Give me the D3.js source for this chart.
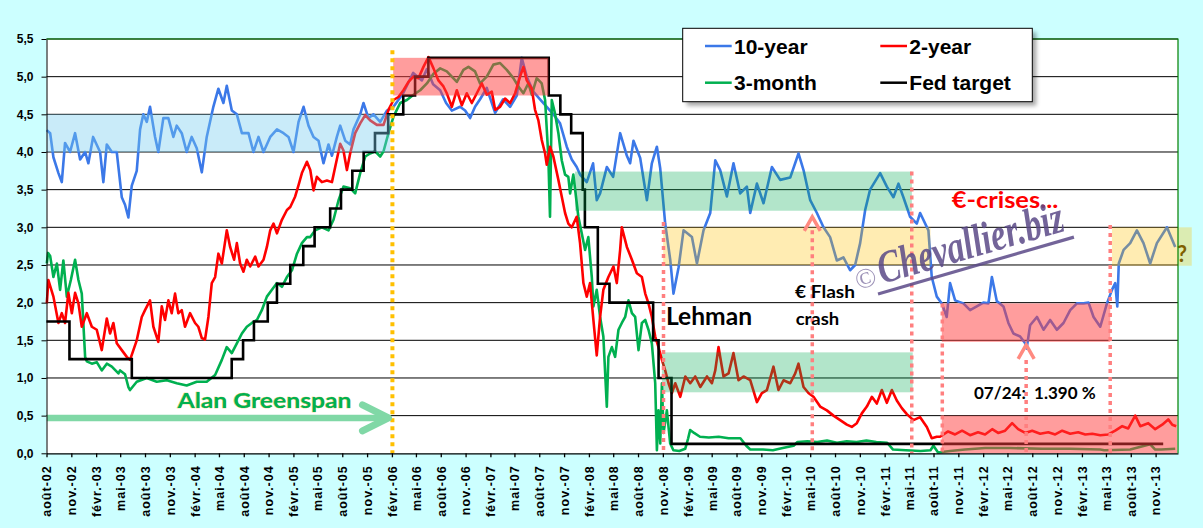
<!DOCTYPE html>
<html>
<head>
<meta charset="utf-8">
<script src="https://cdn.jsdelivr.net/npm/d3@7"></script>
<style>
  body { margin: 0; background: #ccffff; }
  svg { display: block; }
</style>
</head>
<body>
<svg id="chart" width="1203" height="528"></svg>
<script>
// US rates 2002-2014.
// Dates are decimal years.

const tenYear = [
  [2002.584,4.29],[2002.618,4.25],[2002.651,3.93],[2002.702,3.72],[2002.736,3.6],[2002.769,4.12],[2002.82,4.0],[2002.871,4.25],[2002.922,3.9],[2002.973,4.0],
  [2003.006,3.85],[2003.054,4.2],[2003.125,4.0],[2003.158,3.6],[2003.193,4.1],[2003.244,4.0],[2003.294,4.0],[2003.345,3.4],[2003.378,3.3],[2003.412,3.13],
  [2003.446,3.55],[2003.497,3.75],[2003.531,4.3],[2003.564,4.5],[2003.599,4.4],[2003.632,4.6],[2003.683,4.2],[2003.716,4.0],[2003.767,4.45],[2003.818,4.45],
  [2003.869,4.2],[2003.903,4.35],[2003.954,4.25],[2004.004,4.0],[2004.055,4.2],[2004.106,4.05],[2004.157,3.73],[2004.207,4.2],[2004.274,4.6],[2004.325,4.84],
  [2004.376,4.65],[2004.41,4.88],[2004.461,4.55],[2004.512,4.5],[2004.563,4.25],[2004.63,4.25],[2004.68,4.0],[2004.731,4.2],[2004.782,4.0],[2004.85,4.2],
  [2004.918,4.3],[2004.985,4.25],[2005.035,4.2],[2005.086,4.0],[2005.137,4.4],[2005.188,4.6],[2005.238,4.35],[2005.289,4.2],[2005.34,4.15],[2005.39,3.85],
  [2005.441,4.1],[2005.476,3.95],[2005.526,4.2],[2005.56,4.35],[2005.611,4.15],[2005.661,4.1],[2005.695,4.3],[2005.763,4.5],[2005.796,4.65],[2005.847,4.45],
  [2005.898,4.5],[2005.966,4.4],[2006.034,4.55],[2006.101,4.6],[2006.199,4.78],[2006.301,5.05],[2006.389,4.95],[2006.44,5.1],[2006.503,4.9],[2006.575,4.82],
  [2006.635,4.65],[2006.693,4.55],[2006.777,4.6],[2006.828,4.55],[2006.879,4.45],[2006.929,4.6],[2006.98,4.7],[2007.048,4.85],[2007.133,4.52],[2007.214,4.7],
  [2007.285,4.6],[2007.353,4.75],[2007.403,5.25],[2007.454,5.0],[2007.521,4.8],[2007.589,4.7],[2007.657,4.6],[2007.724,4.5],[2007.792,4.38],[2007.86,4.07],
  [2007.911,3.9],[2007.961,3.8],[2007.995,3.7],[2008.063,3.6],[2008.127,3.85],[2008.164,3.36],[2008.198,3.45],[2008.266,3.8],[2008.33,3.67],[2008.401,4.25],
  [2008.469,3.95],[2008.502,3.85],[2008.536,4.15],[2008.604,3.92],[2008.672,3.36],[2008.722,3.85],[2008.773,4.07],[2008.807,3.78],[2008.857,3.05],[2008.908,2.57],
  [2008.941,2.12],[2008.993,2.47],[2009.043,2.96],[2009.128,2.87],[2009.179,2.52],[2009.246,2.96],[2009.314,3.19],[2009.365,3.89],[2009.415,3.76],[2009.483,3.41],
  [2009.55,3.85],[2009.618,3.45],[2009.686,3.54],[2009.72,3.19],[2009.788,3.58],[2009.855,3.32],[2009.94,3.8],[2010.024,3.63],[2010.126,3.66],[2010.21,3.98],
  [2010.261,3.76],[2010.329,3.36],[2010.397,3.19],[2010.464,3.0],[2010.531,2.87],[2010.599,2.56],[2010.666,2.6],[2010.734,2.43],[2010.785,2.5],[2010.836,2.79],
  [2010.887,3.23],[2010.937,3.5],[2011.039,3.72],[2011.107,3.54],[2011.174,3.4],[2011.225,3.58],[2011.275,3.4],[2011.343,3.14],[2011.411,3.05],[2011.445,3.19],
  [2011.529,2.96],[2011.563,2.34],[2011.614,2.08],[2011.665,1.99],[2011.715,1.81],[2011.749,2.26],[2011.8,2.03],[2011.884,1.99],[2011.952,1.9],[2012.02,1.95],
  [2012.087,2.0],[2012.138,1.99],[2012.173,2.34],[2012.223,2.02],[2012.29,1.95],[2012.34,1.73],[2012.391,1.59],[2012.459,1.55],[2012.51,1.46],[2012.525,1.39],
  [2012.56,1.7],[2012.629,1.81],[2012.696,1.64],[2012.763,1.77],[2012.831,1.64],[2012.898,1.73],[2012.966,1.9],[2013.034,1.99],[2013.101,1.99],[2013.152,2.0],
  [2013.203,1.81],[2013.271,1.68],[2013.339,1.99],[2013.39,2.17],[2013.423,2.26],[2013.444,1.95],[2013.459,2.52],[2013.508,2.7],[2013.575,2.79],[2013.643,2.96],
  [2013.71,2.79],[2013.778,2.52],[2013.846,2.79],[2013.948,3.0],[2014.032,2.74]
];

const twoYear = [
  [2002.584,1.99],[2002.6,2.3],[2002.651,2.08],[2002.702,1.73],[2002.736,1.86],[2002.769,1.73],[2002.803,2.13],[2002.838,1.86],[2002.871,2.13],[2002.905,1.99],
  [2002.939,1.68],[2002.99,1.86],[2003.041,1.68],[2003.091,1.64],[2003.142,1.37],[2003.193,1.79],[2003.226,1.59],[2003.26,1.73],[2003.294,1.46],[2003.345,1.37],
  [2003.396,1.28],[2003.429,1.24],[2003.463,1.37],[2003.497,1.5],[2003.548,1.81],[2003.581,1.9],[2003.632,2.03],[2003.666,1.68],[2003.716,1.48],[2003.751,1.95],
  [2003.784,1.77],[2003.818,2.03],[2003.852,1.86],[2003.886,2.12],[2003.919,1.86],[2003.954,1.9],[2003.987,1.68],[2004.038,1.86],[2004.089,1.73],[2004.122,1.68],
  [2004.157,1.53],[2004.19,1.51],[2004.224,1.81],[2004.258,2.26],[2004.292,2.34],[2004.325,2.65],[2004.36,2.52],[2004.41,2.96],[2004.444,2.74],[2004.484,2.57],
  [2004.512,2.79],[2004.545,2.52],[2004.579,2.41],[2004.613,2.57],[2004.647,2.48],[2004.698,2.61],[2004.731,2.48],[2004.782,2.57],[2004.816,2.74],[2004.85,2.96],
  [2004.883,3.05],[2004.918,2.92],[2004.968,3.1],[2005.019,3.23],[2005.053,3.27],[2005.103,3.41],[2005.137,3.56],[2005.171,3.72],[2005.222,3.87],[2005.256,3.76],
  [2005.289,3.49],[2005.323,3.67],[2005.374,3.6],[2005.425,3.62],[2005.476,3.6],[2005.509,3.8],[2005.56,4.11],[2005.593,4.02],[2005.628,3.76],[2005.661,3.98],
  [2005.712,4.25],[2005.763,4.38],[2005.814,4.49],[2005.864,4.42],[2005.932,4.36],[2006.0,4.36],[2006.05,4.56],[2006.101,4.69],[2006.151,4.73],[2006.202,4.82],
  [2006.253,4.93],[2006.304,5.0],[2006.354,4.98],[2006.405,5.13],[2006.456,5.26],[2006.507,5.11],[2006.557,4.95],[2006.608,4.87],[2006.642,4.78],[2006.693,4.6],
  [2006.744,4.82],[2006.795,4.62],[2006.845,4.78],[2006.896,4.65],[2006.947,4.78],[2006.998,4.91],[2007.048,4.76],[2007.099,4.8],[2007.133,4.56],[2007.183,4.6],
  [2007.234,4.71],[2007.285,4.65],[2007.336,4.78],[2007.386,5.0],[2007.42,5.13],[2007.454,4.95],[2007.505,4.84],[2007.538,4.56],[2007.572,4.42],[2007.606,4.16],
  [2007.64,3.98],[2007.657,3.83],[2007.69,4.07],[2007.724,3.94],[2007.775,3.63],[2007.809,3.41],[2007.843,3.19],[2007.876,3.05],[2007.911,3.0],[2007.961,3.14],
  [2007.995,2.79],[2008.029,2.26],[2008.063,2.08],[2008.096,2.26],[2008.13,1.77],[2008.164,1.3],[2008.198,1.81],[2008.231,2.17],[2008.282,2.34],[2008.333,2.48],
  [2008.367,2.26],[2008.401,2.7],[2008.418,3.0],[2008.469,2.74],[2008.52,2.57],[2008.57,2.39],[2008.621,2.34],[2008.655,2.12],[2008.688,1.99],[2008.722,1.81],
  [2008.756,1.55],[2008.789,1.41],[2008.824,1.24],[2008.857,1.1],[2008.891,0.93],[2008.925,0.8],[2008.959,0.93],[2009.01,0.75],[2009.061,1.02],[2009.111,0.93],
  [2009.162,1.02],[2009.213,0.88],[2009.281,1.02],[2009.331,0.93],[2009.365,1.1],[2009.398,1.41],[2009.449,1.02],[2009.5,1.06],[2009.55,1.33],[2009.601,0.97],
  [2009.652,1.02],[2009.72,0.97],[2009.788,0.68],[2009.838,0.8],[2009.889,0.84],[2009.956,1.15],[2010.007,0.84],[2010.058,0.97],[2010.126,0.93],[2010.177,1.06],
  [2010.21,1.19],[2010.261,0.88],[2010.311,0.8],[2010.362,0.75],[2010.43,0.62],[2010.498,0.57],[2010.565,0.5],[2010.633,0.44],[2010.701,0.38],[2010.751,0.35],
  [2010.802,0.4],[2010.853,0.53],[2010.904,0.62],[2010.955,0.75],[2011.005,0.66],[2011.056,0.84],[2011.107,0.67],[2011.158,0.84],[2011.208,0.7],[2011.259,0.6],
  [2011.31,0.52],[2011.377,0.44],[2011.445,0.48],[2011.513,0.35],[2011.563,0.2],[2011.614,0.22],[2011.647,0.22],[2011.729,0.29],[2011.8,0.25],[2011.871,0.3],
  [2011.952,0.24],[2012.033,0.28],[2012.104,0.25],[2012.176,0.32],[2012.236,0.27],[2012.307,0.3],[2012.378,0.4],[2012.439,0.32],[2012.51,0.27],[2012.581,0.3],
  [2012.662,0.26],[2012.744,0.28],[2012.814,0.25],[2012.885,0.3],[2012.966,0.26],[2013.047,0.28],[2013.119,0.25],[2013.19,0.26],[2013.271,0.24],[2013.352,0.25],
  [2013.423,0.3],[2013.494,0.36],[2013.555,0.33],[2013.626,0.5],[2013.677,0.36],[2013.758,0.4],[2013.829,0.32],[2013.9,0.38],[2013.961,0.45],[2014.002,0.38],
  [2014.042,0.36]
];

const threeMonth = [
  [2002.584,2.52],[2002.597,2.66],[2002.618,2.62],[2002.651,2.34],[2002.686,2.52],[2002.719,2.17],[2002.752,2.56],[2002.787,2.08],[2002.828,2.3],[2002.871,2.57],
  [2002.905,2.3],[2002.939,2.12],[2002.973,1.28],[2002.99,1.22],[2003.041,1.19],[2003.091,1.21],[2003.142,1.1],[2003.193,1.19],[2003.244,1.15],[2003.311,1.06],
  [2003.328,1.1],[2003.378,1.05],[2003.412,0.88],[2003.429,0.84],[2003.497,0.95],[2003.599,1.0],[2003.7,0.95],[2003.802,0.97],[2003.903,0.93],[2004.004,0.9],
  [2004.106,0.95],[2004.207,0.95],[2004.292,1.04],[2004.36,1.24],[2004.41,1.41],[2004.461,1.33],[2004.512,1.46],[2004.563,1.59],[2004.613,1.68],[2004.664,1.73],
  [2004.715,1.77],[2004.765,1.9],[2004.816,2.08],[2004.867,2.17],[2004.918,2.26],[2004.968,2.21],[2005.019,2.34],[2005.07,2.43],[2005.121,2.65],[2005.171,2.79],
  [2005.222,2.87],[2005.256,2.87],[2005.306,2.96],[2005.374,3.0],[2005.441,2.96],[2005.492,3.1],[2005.543,3.36],[2005.593,3.54],[2005.661,3.52],[2005.712,3.45],
  [2005.763,3.72],[2005.814,3.94],[2005.864,3.98],[2005.915,4.01],[2005.966,3.94],[2006.0,4.01],[2006.05,4.25],[2006.101,4.47],[2006.169,4.65],[2006.237,4.69],
  [2006.304,4.76],[2006.372,4.82],[2006.44,4.91],[2006.507,5.04],[2006.575,5.11],[2006.642,5.07],[2006.693,5.0],[2006.744,4.93],[2006.811,5.09],[2006.862,5.13],
  [2006.929,5.07],[2006.98,4.91],[2007.048,5.0],[2007.115,5.16],[2007.183,5.18],[2007.251,5.09],[2007.318,4.98],[2007.369,4.87],[2007.42,4.78],[2007.47,4.91],
  [2007.505,4.76],[2007.555,4.98],[2007.606,4.91],[2007.64,4.69],[2007.673,3.94],[2007.69,3.14],[2007.708,4.69],[2007.741,4.51],[2007.775,4.25],[2007.809,3.89],
  [2007.843,3.7],[2007.876,3.67],[2007.894,3.45],[2007.927,3.7],[2007.978,3.14],[2008.012,2.92],[2008.046,2.7],[2008.079,2.87],[2008.114,2.34],[2008.13,1.95],
  [2008.164,2.17],[2008.198,1.81],[2008.231,1.55],[2008.266,0.62],[2008.282,1.28],[2008.317,1.41],[2008.35,1.28],[2008.384,1.64],[2008.418,1.73],[2008.452,1.81],
  [2008.485,2.03],[2008.52,1.86],[2008.553,1.81],[2008.587,1.37],[2008.621,1.73],[2008.655,1.77],[2008.688,1.64],[2008.722,1.46],[2008.756,0.93],[2008.773,0.04],
  [2008.789,0.57],[2008.807,0.13],[2008.824,0.93],[2008.84,0.27],[2008.874,0.57],[2008.908,0.13],[2008.94,0.04],[2009.0,0.03],[2009.06,0.06],[2009.09,0.2],
  [2009.11,0.31],[2009.15,0.27],[2009.21,0.22],[2009.3,0.21],[2009.4,0.22],[2009.5,0.2],[2009.62,0.2],[2009.68,0.1],[2009.72,0.05],[2009.85,0.05],
  [2009.95,0.04],[2010.05,0.07],[2010.16,0.1],[2010.2,0.15],[2010.3,0.16],[2010.4,0.15],[2010.5,0.17],[2010.6,0.14],[2010.7,0.16],[2010.8,0.15],
  [2010.9,0.17],[2011.0,0.15],[2011.11,0.14],[2011.17,0.05],[2011.3,0.04],[2011.45,0.03],[2011.55,0.04],[2011.58,0.1],[2011.627,0.01],[2011.749,0.03],
  [2011.901,0.05],[2012.104,0.07],[2012.358,0.07],[2012.682,0.06],[2012.966,0.06],[2013.271,0.05],[2013.312,0.04],[2013.575,0.05],[2013.778,0.12],[2013.829,0.05],
  [2013.89,0.05],[2014.032,0.06]
];

// Fed funds target: [date of change, new level]
const fedTarget = [
  [2002.58,1.75],[2002.814,1.25],[2003.447,1.0],[2004.46,1.25],[2004.575,1.5],[2004.685,1.75],[2004.825,2.0],[2004.918,2.25],
  [2005.053,2.5],[2005.185,2.75],[2005.30,3.0],[2005.458,3.25],[2005.568,3.5],[2005.683,3.75],[2005.798,4.0],[2005.913,4.25],
  [2006.047,4.5],[2006.20,4.75],[2006.32,5.0],[2006.455,5.25],[2007.677,4.75],[2007.795,4.5],[2007.905,4.25],[2008.022,3.5],
  [2008.044,3.0],[2008.175,2.25],[2008.293,2.0],[2008.735,1.5],[2008.79,1.0],[2008.921,0.125],[2013.91,0.125]
];

// shaded ranges drawn over the lines
const zones = [
  {from: 2002.584, to: 2006.067, low: 4.0,  high: 4.5,  kind: 'blue'},
  {from: 2006.098, to: 2007.673, low: 4.75, high: 5.25, kind: 'red'},
  {from: 2007.944, to: 2011.361, low: 3.22, high: 3.74, kind: 'green'},
  {from: 2008.837, to: 2011.55,  low: 2.5,  high: 3.0,  kind: 'yellow'},
  {from: 2008.824, to: 2011.37,  low: 0.81, high: 1.34, kind: 'green'},
  {from: 2011.665, to: 2013.372, low: 1.48, high: 1.99, kind: 'red'},
  {from: 2013.39,  to: 2014.2,   low: 2.49, high: 3.0,  kind: 'yellow'},
  {from: 2011.665, to: 2014.05,  low: 0,    high: 0.5,  kind: 'red'}
];

// vertical event markers
const events = [
  {t: 2006.09,  top: 5.35, kind: 'greenspan'},
  {t: 2008.84,  top: 3.07, kind: 'crisis'},
  {t: 2010.35,  top: 2.96, kind: 'crisis'},
  {t: 2011.36,  top: 3.74, kind: 'crisis'},
  {t: 2011.67,  top: 1.99, kind: 'crisis'},
  {t: 2012.52,  top: 1.24, kind: 'crisis'},
  {t: 2013.372, top: 3.03, kind: 'crisis'}
];
const eventArrows = [[2010.35, 3.14], [2012.52, 1.44]];
const greenspanArrow = [[2002.584, 0.47], [2006.05, 0.47]];

const yTicks = [0, 0.5, 1, 1.5, 2, 2.5, 3, 3.5, 4, 4.5, 5, 5.5];
const monthNames = ['janv.', 'févr.', 'mars', 'avr.', 'mai', 'juin', 'juil.', 'août', 'sept.', 'oct.', 'nov.', 'déc.'];

const legendItems = [
  {label: '10-year',    color: '#3b78e8', col: 0, row: 0},
  {label: '2-year',     color: '#ff0000', col: 1, row: 0},
  {label: '3-month',    color: '#00b050', col: 0, row: 1},
  {label: 'Fed target', color: '#000000', col: 1, row: 1}
];

const zoneFill = {blue: 'rgba(120,205,240,0.4)', red: 'rgba(255,60,60,0.5)', green: 'rgba(0,170,80,0.3)', yellow: 'rgba(255,192,0,0.3)'};

function yearToDate(t) {
  const yr = Math.floor(t);
  const a = Date.UTC(yr, 0, 1), b = Date.UTC(yr + 1, 0, 1);
  return new Date(a + (t - yr) * (b - a));
}

const plot = {left: 46.5, right: 1178, top: 39, bottom: 453.3};

const x = d3.scaleUtc()
  .domain([new Date(Date.UTC(2002, 7, 1)), new Date(Date.UTC(2014, 0, 23))])
  .range([plot.left, plot.right]);
const y = d3.scaleLinear().domain([0, 5.5]).range([plot.bottom, plot.top]);
const X = t => x(yearToDate(t));

const svg = d3.select('#chart');
const defs = svg.append('defs');
defs.append('filter').attr('id', 'blur').append('feGaussianBlur').attr('stdDeviation', 2);

svg.append('rect').attr('width', 1203).attr('height', 528).attr('fill', '#ccffff');
svg.append('rect')
  .attr('x', plot.left).attr('y', plot.top)
  .attr('width', plot.right - plot.left).attr('height', plot.bottom - plot.top)
  .attr('fill', '#fff');

// gridlines
svg.append('g').selectAll('line')
  .data(yTicks.filter(d => d > 0))
  .enter().append('line')
  .attr('x1', plot.left).attr('x2', plot.right)
  .attr('y1', d => y(d)).attr('y2', d => y(d))
  .attr('stroke', '#000').attr('stroke-width', 1);

// series
const line = d3.line().x(d => X(d[0])).y(d => y(d[1]));
const series = [
  {data: tenYear, color: '#3b78e8'},
  {data: threeMonth, color: '#00b050'},
  {data: twoYear, color: '#ff0000'}
];
svg.append('g').selectAll('path')
  .data(series)
  .enter().append('path')
  .attr('d', d => line(d.data))
  .attr('fill', 'none')
  .attr('stroke', d => d.color)
  .attr('stroke-width', 2.6)
  .attr('stroke-linejoin', 'round');

svg.append('path')
  .attr('d', d3.line().x(d => X(d[0])).y(d => y(d[1])).curve(d3.curveStepAfter)(fedTarget))
  .attr('fill', 'none')
  .attr('stroke', '#000')
  .attr('stroke-width', 2.6);

// shaded zones
svg.append('g').selectAll('rect')
  .data(zones)
  .enter().append('rect')
  .attr('x', d => X(d.from))
  .attr('y', d => y(d.high))
  .attr('width', d => X(d.to) - X(d.from))
  .attr('height', d => y(d.low) - y(d.high))
  .attr('fill', d => zoneFill[d.kind]);

// event dotted lines
svg.append('g').selectAll('line')
  .data(events)
  .enter().append('line')
  .attr('x1', d => X(d.t)).attr('x2', d => X(d.t))
  .attr('y1', d => y(d.top)).attr('y2', plot.bottom)
  .attr('stroke', d => d.kind === 'greenspan' ? '#ffc000' : '#ff7f7f')
  .attr('stroke-width', d => d.kind === 'greenspan' ? 4 : 3.5)
  .attr('stroke-dasharray', '4,4');

svg.append('g').selectAll('path')
  .data(eventArrows)
  .enter().append('path')
  .attr('d', d => {
    const px = X(d[0]), py = y(d[1]);
    return `M${px - 8},${py + 14}L${px},${py}L${px + 8},${py + 14}`;
  })
  .attr('fill', 'none')
  .attr('stroke', '#ff8a80')
  .attr('stroke-width', 3.5);

// Greenspan arrow
const ga = greenspanArrow.map(d => [X(d[0]), y(d[1])]);
svg.append('path')
  .attr('d', `M${ga[0][0]},${ga[0][1]}L${ga[1][0]},${ga[1][1]}`)
  .attr('stroke', '#80d8a6').attr('stroke-width', 6.5).attr('fill', 'none');
svg.append('path')
  .attr('d', `M${ga[1][0] - 26},${ga[1][1] - 13}L${ga[1][0]},${ga[1][1]}L${ga[1][0] - 26},${ga[1][1] + 13}`)
  .attr('stroke', '#80d8a6').attr('stroke-width', 7).attr('fill', 'none')
  .attr('stroke-linecap', 'round').attr('stroke-linejoin', 'round');

// annotations
const note = (txt, px, py, size, color, len) => {
  const t = svg.append('text')
    .attr('x', px).attr('y', py)
    .attr('font-family', 'Lato, "Open Sans", sans-serif')
    .attr('font-weight', 'bold')
    .attr('font-size', size)
    .attr('fill', color)
    .style('white-space', 'pre')
    .text(txt);
  if (len) t.attr('textLength', len).attr('lengthAdjust', 'spacingAndGlyphs');
  return t;
};
note('Alan Greenspan', 177.5, 408.3, 21, '#00b050', 174)
  .attr('stroke', '#e6c65a').attr('stroke-width', 0.6).style('paint-order', 'stroke');
note('Lehman', 666, 325, 25.5, '#000', 86);
note('€ Flash', 795, 298.3, 16.5, '#000', 60);
note('crash', 795.7, 325, 16.5, '#000', 43.6);
note('€-crises...', 951.7, 208.3, 23.5, '#ff0000', 106.6);
note('07/24:  1.390 %', 974, 398.5, 17, '#000', 121.7);
note('?', 1177, 261.7, 23, '#7f6000', 10);

// watermark
const wm = svg.append('g')
  .attr('transform', 'translate(882,284) rotate(-16.2)')
  .attr('fill', '#5b4a88')
  .attr('opacity', 0.85);
wm.append('text')
  .attr('x', 0).attr('y', 0)
  .attr('font-family', '"Liberation Serif", serif')
  .attr('font-style', 'italic')
  .attr('font-weight', 'bold')
  .attr('font-size', 46)
  .attr('textLength', 192).attr('lengthAdjust', 'spacingAndGlyphs')
  .text('Chevallier.biz');
wm.append('text')
  .attr('x', -14).attr('y', -1)
  .attr('text-anchor', 'middle')
  .attr('font-family', '"Liberation Serif", serif')
  .attr('font-size', 28)
  .attr('opacity', 0.7)
  .text('©');
wm.append('line')
  .attr('x1', -6.6).attr('x2', 197.4).attr('y1', 8.5).attr('y2', 8.5)
  .attr('stroke', '#5b4a88').attr('stroke-width', 3.2);

// axes
const yAxis = svg.append('g')
  .attr('transform', `translate(${plot.left},0)`)
  .call(d3.axisLeft(y).tickValues(yTicks).tickSize(5).tickSizeOuter(0)
    .tickFormat(d => d.toFixed(1).replace('.', ',')));
yAxis.selectAll('text')
  .attr('x', -13)
  .attr('font-family', '"Liberation Sans", Arial, sans-serif')
  .attr('font-weight', 'bold')
  .attr('font-size', 12)
  .attr('fill', '#000');
yAxis.selectAll('line, path').attr('stroke', '#000');

const xTicks = d3.utcMonth.range(new Date(Date.UTC(2002, 7, 1)), new Date(Date.UTC(2013, 11, 2)), 3);
const xAxis = svg.append('g')
  .attr('transform', `translate(0,${plot.bottom})`)
  .call(d3.axisBottom(x).tickValues(xTicks).tickSize(4).tickSizeOuter(0)
    .tickFormat(d => `${monthNames[d.getUTCMonth()]}-${String(d.getUTCFullYear()).slice(2)}`));
xAxis.selectAll('text')
  .attr('transform', 'rotate(-90)')
  .attr('text-anchor', 'end')
  .attr('x', -12)
  .attr('y', 0)
  .attr('dy', '0.35em')
  .attr('font-family', '"Liberation Sans", Arial, sans-serif')
  .attr('font-weight', 'bold')
  .attr('font-size', 12.5)
  .attr('letter-spacing', 1)
  .attr('fill', '#000');
xAxis.selectAll('line, path').attr('stroke', '#000').attr('stroke-width', 1.3);

// plot border (top and right)
svg.append('path')
  .attr('d', `M${plot.left},${plot.top}H${plot.right}V${plot.bottom}`)
  .attr('fill', 'none').attr('stroke', '#008000').attr('stroke-width', 1.2);

// legend
const lg = svg.append('g').attr('transform', 'translate(682.7,28.3)');
lg.append('rect').attr('x', 4).attr('y', 4).attr('width', 349.6).attr('height', 73.4)
  .attr('fill', '#000').attr('opacity', 0.35).attr('filter', 'url(#blur)');
lg.append('rect').attr('width', 349.6).attr('height', 73.4)
  .attr('fill', '#fff').attr('stroke', '#000').attr('stroke-width', 1);
const li = lg.selectAll('g.item')
  .data(legendItems)
  .enter().append('g')
  .attr('class', 'item')
  .attr('transform', d => `translate(${22.3 + d.col * 175.3},${17.7 + d.row * 36.7})`);
li.append('line')
  .attr('x1', 0).attr('x2', 26.7).attr('y1', 0).attr('y2', 0)
  .attr('stroke', d => d.color).attr('stroke-width', 2.5);
li.append('text')
  .attr('x', 29).attr('y', 7.5)
  .attr('font-family', '"Liberation Sans", Arial, sans-serif')
  .attr('font-weight', 'bold')
  .attr('font-size', 21)
  .attr('fill', '#000')
  .text(d => d.label);
</script>
</body>
</html>
